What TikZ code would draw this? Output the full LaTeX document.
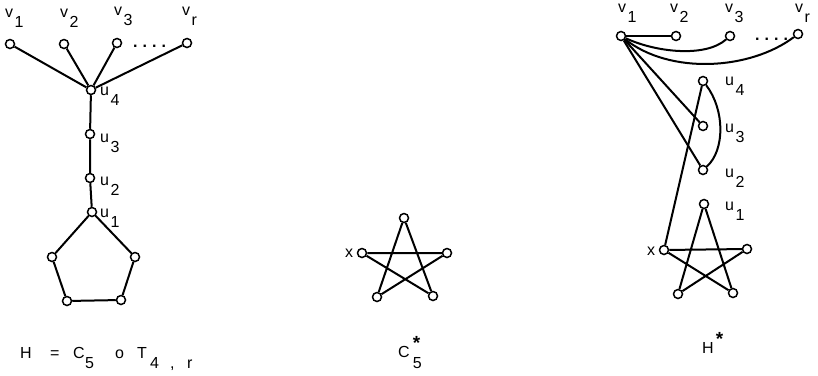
\documentclass[tikz,border=0pt]{standalone}
\usepackage{fontspec}
\setmainfont{Liberation Sans}
\tikzset{
  vtx/.style={circle, draw, fill=white, line width=1.5pt, minimum size=9pt, inner sep=0pt},
  lbl/.style={font=\fontsize{16}{18}\selectfont, inner sep=0pt, anchor=base west},
  link/.style={line width=2pt},
}
\newcommand{\lsub}[2]{#1\hspace{1.5pt}\raisebox{-10pt}{#2}}
\newcommand{\dotrow}{{\bfseries .\hspace{5pt}.\hspace{5pt}.\hspace{5pt}.}}
\newcommand{\bstar}{{\bfseries\fontsize{19}{19}\selectfont *}}

\begin{document}
\begin{tikzpicture}[x=1pt,y=-1pt]
  \useasboundingbox (0,0) rectangle (818,375);

  % H = C5 o T4,r
  \node[vtx] (v1) at (10,44) {};
  \node[vtx] (v2) at (64,44) {};
  \node[vtx] (v3) at (117,43) {};
  \node[vtx] (vr) at (187,43) {};
  \node[vtx] (u4) at (91,90) {};
  \node[vtx] (u3) at (90,134) {};
  \node[vtx] (u2) at (90,178) {};
  \node[vtx] (u1) at (92,212) {};
  \node[vtx] (p2) at (135,257) {};
  \node[vtx] (p3) at (121,300) {};
  \node[vtx] (p4) at (67,301) {};
  \node[vtx] (p5) at (52,257) {};
  \foreach \a in {v1,v2,v3,vr} \draw[link] (\a) -- (u4);
  \draw[link] (u4) -- (u3) -- (u2) -- (u1);
  \draw[link] (u1) -- (p2) -- (p3) -- (p4) -- (p5) -- (u1);
  \node[lbl] (lv1) at (5,17) {\lsub{v}{1}};
  \node[lbl] (lv2) at (60,17) {\lsub{v}{2}};
  \node[lbl] (lv3) at (114,15) {\lsub{v}{3}};
  \node[lbl] (lvr) at (182,15) {\lsub{v}{r}};
  \node[lbl] (dots) at (133,47) {\dotrow};
  \node[lbl] (lu4) at (100,95) {\lsub{u}{4}};
  \node[lbl] (lu3) at (100,142) {\lsub{u}{3}};
  \node[lbl] (lu2) at (100,185) {\lsub{u}{2}};
  \node[lbl] (lu1) at (100,217) {\lsub{u}{1}};
  \node[lbl] (capH) at (20,358) {\makebox[30pt][l]{H}\makebox[23pt][l]{=}\makebox[12pt][l]{C}%
    \makebox[30pt][l]{\raisebox{-10pt}{5}}\makebox[22pt][l]{o}\makebox[13pt][l]{T}%
    \raisebox{-10pt}{\makebox[20pt][l]{4}\makebox[17pt][l]{,}r}};

  % C5*
  \node[vtx] (c1) at (404,218) {};
  \node[vtx] (cx) at (362,253) {};
  \node[vtx] (c3) at (447,253) {};
  \node[vtx] (c4) at (433,296) {};
  \node[vtx] (c5) at (377,297) {};
  \draw[link] (c1) -- (c5) (c1) -- (c4) (cx) -- (c3) (cx) -- (c4) (c3) -- (c5);
  \node[lbl] (lcx) at (345,257) {x};
  \node[lbl] (capC) at (398,357) {C\hspace{3pt}\rlap{\raisebox{8pt}{\bstar}}\raisebox{-11pt}{5}};

  % H*
  \node[vtx] (hv1) at (621,36) {};
  \node[vtx] (hv2) at (676,36) {};
  \node[vtx] (hv3) at (730,36) {};
  \node[vtx] (hvr) at (798,34) {};
  \node[vtx] (hu4) at (703,81) {};
  \node[vtx] (hu3) at (703,126) {};
  \node[vtx] (hu2) at (703,170) {};
  \node[vtx] (hu1) at (704,204) {};
  \node[vtx] (hx) at (664,250) {};
  \node[vtx] (hs3) at (747,249) {};
  \node[vtx] (hs4) at (733,293) {};
  \node[vtx] (hs5) at (678,294) {};
  \draw[link] (hv1) -- (hv2);
  \draw[link] (hv1) .. controls (655,52) and (705,58) .. (hv3);
  \draw[link] (hv1) .. controls (670,75) and (750,70) .. (hvr);
  \draw[link] (hv1) -- (hu3);
  \draw[link] (hv1) -- (hu2);
  \draw[link] (hu4) .. controls (725,110) and (725,150) .. (hu2);
  \draw[link] (hu4) -- (hx);
  \draw[link] (hu1) -- (hs5) (hu1) -- (hs4) (hx) -- (hs3) (hx) -- (hs4) (hs3) -- (hs5);
  \node[lbl] (lhv1) at (618,12) {\lsub{v}{1}};
  \node[lbl] (lhv2) at (670,12) {\lsub{v}{2}};
  \node[lbl] (lhv3) at (725,12) {\lsub{v}{3}};
  \node[lbl] (lhvr) at (795,12) {\lsub{v}{r}};
  \node[lbl] (hdots) at (755,40) {\dotrow};
  \node[lbl] (lhu4) at (725,85) {\lsub{u}{4}};
  \node[lbl] (lhu3) at (725,132) {\lsub{u}{3}};
  \node[lbl] (lhu2) at (725,177) {\lsub{u}{2}};
  \node[lbl] (lhu1) at (725,210) {\lsub{u}{1}};
  \node[lbl] (lhx) at (647,255) {x};
  \node[lbl] (capHs) at (702,353) {H\hspace{2pt}\raisebox{8pt}{\bstar}};
\end{tikzpicture}
\end{document}
